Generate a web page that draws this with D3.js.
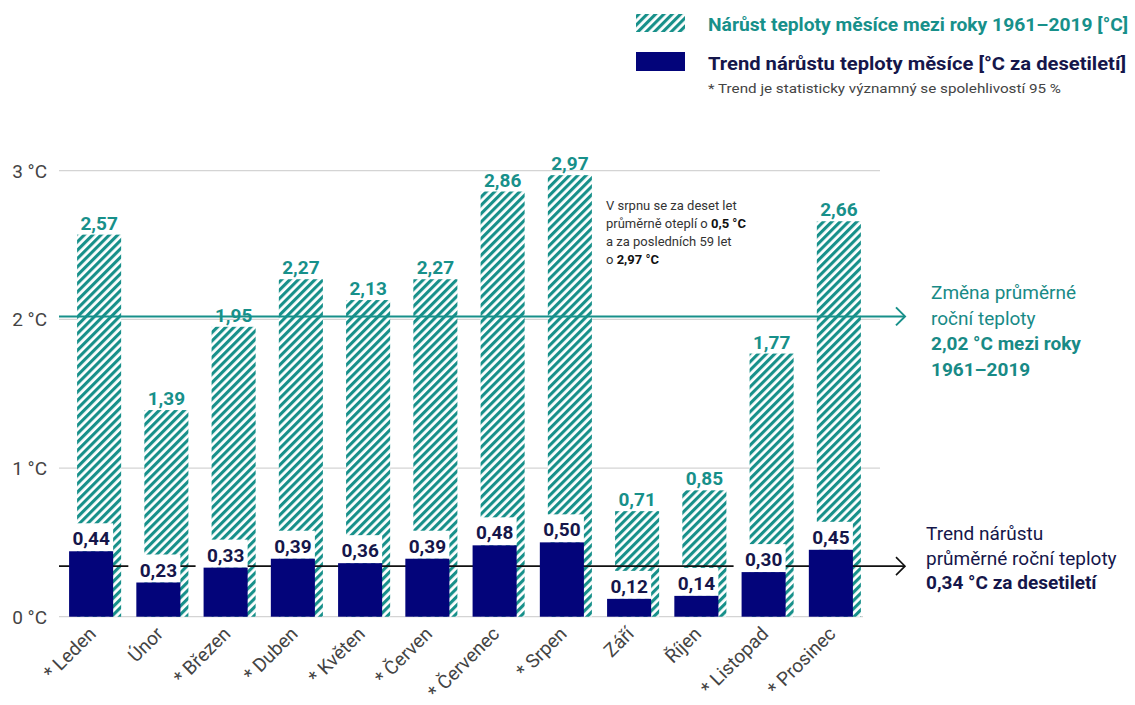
<!DOCTYPE html>
<html lang="cs">
<head>
    <meta charset="UTF-8">
    <title>Nárůst teploty</title>
    <style>
        body { margin: 0; background: #fff; }
        svg { font-family: Roboto, "Noto Sans", sans-serif; }
    </style>
</head>
<body>
<svg width="1135" height="705" xmlns="http://www.w3.org/2000/svg" id="chart"></svg>
<script src="https://cdn.jsdelivr.net/npm/d3@7"></script>
<script>
    // data
    const months = ["Leden", "Únor", "Březen", "Duben", "Květen", "Červen", "Červenec", "Srpen", "Září", "Říjen", "Listopad", "Prosinec"];
    const significant = [true, false, true, true, true, true, true, true, false, false, true, true];
    const rise = [2.57, 1.39, 1.95, 2.27, 2.13, 2.27, 2.86, 2.97, 0.71, 0.85, 1.77, 2.66];
    const trend = [0.44, 0.23, 0.33, 0.39, 0.36, 0.39, 0.48, 0.50, 0.12, 0.14, 0.30, 0.45];
    const yTicks = [0, 1, 2, 3];
    const annualRise = 2.02;
    const annualTrend = 0.34;

    const teal = "#17908a";
    const navy = "#03047a";
    const navyText = "#15164a";

    const svg = d3.select("#chart");
    const fmt = v => d3.format(".2f")(v).replace(".", ",");

    const x = d3.scaleBand().domain(months).range([59, 866]);
    const y = d3.scaleLinear().domain([0, 3]).range([616.7, 170.7]);
    const step = x.step();
    const barW = step * 0.655;
    const navyX = m => x(m) + step * 0.15;
    const hatchX = m => navyX(m) + 8;

    // hatch pattern
    const defs = svg.append("defs");
    const pat = defs.append("pattern")
        .attr("id", "hatch")
        .attr("patternUnits", "userSpaceOnUse")
        .attr("width", 5.9)
        .attr("height", 10)
        .attr("patternTransform", "rotate(45)");
    pat.append("rect").attr("width", 5.9).attr("height", 10).attr("fill", "#fff");
    pat.append("rect").attr("width", 3.1).attr("height", 10).attr("fill", teal);

    // gridlines
    svg.append("g").selectAll("line")
        .data(yTicks)
        .join("line")
        .attr("x1", 59)
        .attr("x2", d => d === 0 ? 863 : 880)
        .attr("y1", d => y(d))
        .attr("y2", d => y(d))
        .attr("stroke", "#d4d4d4")
        .attr("stroke-width", 1.2);

    svg.append("g").selectAll("text")
        .data(yTicks)
        .join("text")
        .attr("x", 47)
        .attr("y", d => y(d) + 7)
        .attr("text-anchor", "end")
        .attr("font-size", 19)
        .attr("fill", "#444")
        .text(d => d + " °C");

    // hatched bars (rise 1961-2019)
    svg.append("g").selectAll("rect")
        .data(months)
        .join("rect")
        .attr("x", d => hatchX(d))
        .attr("y", (d, i) => y(rise[i]))
        .attr("width", barW)
        .attr("height", (d, i) => y(0) - y(rise[i]))
        .attr("fill", "url(#hatch)");

    // reference lines with arrows
    function refLine(val, color, w) {
        const yy = y(val);
        svg.append("line")
            .attr("x1", 59).attr("x2", 905)
            .attr("y1", yy).attr("y2", yy)
            .attr("stroke", color).attr("stroke-width", w);
        svg.append("path")
            .attr("d", `M${896},${yy - 9} L${905},${yy} L${896},${yy + 9}`)
            .attr("fill", "none").attr("stroke", color).attr("stroke-width", w);
    }
    refLine(annualRise, teal, 2);
    refLine(annualTrend, "#111", 1.6);

    // white boxes behind trend labels
    svg.append("g").selectAll("rect")
        .data(months)
        .join("rect")
        .attr("x", d => navyX(d) - 8)
        .attr("y", (d, i) => y(trend[i]) - 28)
        .attr("width", barW + 8)
        .attr("height", 28)
        .attr("fill", "#fff");

    // navy bars (trend per decade)
    svg.append("g").selectAll("rect")
        .data(months)
        .join("rect")
        .attr("x", d => navyX(d))
        .attr("y", (d, i) => y(trend[i]))
        .attr("width", barW)
        .attr("height", (d, i) => y(0) - y(trend[i]))
        .attr("fill", navy);

    // value labels
    svg.append("g").selectAll("text")
        .data(months)
        .join("text")
        .attr("x", d => hatchX(d) + barW / 2)
        .attr("y", (d, i) => y(rise[i]) - 5)
        .attr("text-anchor", "middle")
        .attr("font-size", 19)
        .attr("font-weight", "bold")
        .attr("fill", teal)
        .text((d, i) => fmt(rise[i]));

    svg.append("g").selectAll("text")
        .data(months)
        .join("text")
        .attr("x", d => navyX(d) + barW / 2)
        .attr("y", (d, i) => y(trend[i]) - 6)
        .attr("text-anchor", "middle")
        .attr("font-size", 19)
        .attr("font-weight", "bold")
        .attr("fill", navyText)
        .text((d, i) => fmt(trend[i]));

    // month labels
    svg.append("g").selectAll("text")
        .data(months)
        .join("text")
        .attr("transform", d => `translate(${navyX(d) + barW / 2 + 6},${635}) rotate(-45)`)
        .attr("text-anchor", "end")
        .attr("font-size", 19)
        .attr("fill", "#444")
        .text((d, i) => (significant[i] ? "* " : "") + d);

    // legend
    svg.append("rect").attr("x", 636).attr("y", 14).attr("width", 49).attr("height", 18).attr("fill", "url(#hatch)");
    svg.append("rect").attr("x", 636).attr("y", 52).attr("width", 49).attr("height", 19).attr("fill", navy);
    svg.append("text")
        .attr("x", 708).attr("y", 31)
        .attr("font-size", 19).attr("font-weight", "bold").attr("fill", teal)
        .attr("textLength", 420).attr("lengthAdjust", "spacingAndGlyphs")
        .text("Nárůst teploty měsíce mezi roky 1961–2019 [°C]");
    svg.append("text")
        .attr("x", 708).attr("y", 70)
        .attr("font-size", 19).attr("font-weight", "bold").attr("fill", navyText)
        .attr("textLength", 418).attr("lengthAdjust", "spacingAndGlyphs")
        .text("Trend nárůstu teploty měsíce [°C za desetiletí]");
    svg.append("text")
        .attr("x", 708).attr("y", 93)
        .attr("font-size", 13).attr("fill", "#444")
        .attr("textLength", 353).attr("lengthAdjust", "spacingAndGlyphs")
        .text("* Trend je statisticky významný se spolehlivostí 95 %");

    // annotation for August
    const note = svg.append("text").attr("font-size", 13).attr("fill", "#333");
    const noteLines = [
        [["V srpnu se za deset let", false]],
        [["průměrně oteplí o ", false], ["0,5 °C", true]],
        [["a za posledních 59 let", false]],
        [["o ", false], ["2,97 °C", true]]
    ];
    noteLines.forEach((parts, i) => {
        parts.forEach((p, j) => {
            const t = note.append("tspan").text(p[0]);
            if (j === 0) t.attr("x", 606).attr("y", 210 + i * 18);
            if (p[1]) t.attr("font-weight", "bold").attr("fill", "#111");
        });
    });

    // right annotations
    function block(x0, y0, lh, lines, color) {
        const t = svg.append("text").attr("font-size", 19).attr("fill", color);
        lines.forEach((l, i) => {
            t.append("tspan")
                .attr("x", x0).attr("y", y0 + i * lh)
                .attr("font-weight", l[1] ? "bold" : "normal")
                .text(l[0]);
        });
    }
    block(931, 299, 25.5, [["Změna průměrné", false], ["roční teploty", false], ["2,02 °C mezi roky", true], ["1961–2019", true]], "#188a86");
    block(926, 540, 24.5, [["Trend nárůstu", false], ["průměrné roční teploty", false], ["0,34 °C za desetiletí", true]], navyText);
</script>
</body>
</html>
